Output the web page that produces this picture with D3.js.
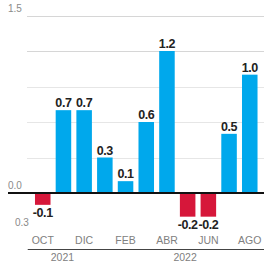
<!DOCTYPE html>
<html><head><meta charset="utf-8">
<script src="https://cdn.jsdelivr.net/npm/d3@7"></script>
<style>
html,body{margin:0;padding:0;background:#fff;}
svg{display:block;}
</style></head>
<body>
<div id="chart"></div>
<script>
const months = ["OCT","NOV","DIC","ENE","FEB","MAR","ABR","MAY","JUN","JUL","AGO"];
const values = [-0.1, 0.7, 0.7, 0.3, 0.1, 0.6, 1.2, -0.2, -0.2, 0.5, 1.0];
const monthLabels = ["OCT","DIC","FEB","ABR","JUN","AGO"];
const gridValues = [-0.3, 0, 0.3, 0.6, 0.9, 1.2, 1.5];
const tickValues = [1.5, 0.0, -0.3];
const tickLabels = ["1.5", "0.0", "0.3"];
const years = ["2021", "2022"];
const yearFirst = ["OCT", "ENE"];
const yearLast = ["DIC", "AGO"];

const W = 264, H = 264;
const svg = d3.select("#chart").append("svg").attr("width", W).attr("height", H);

const x = d3.scaleBand().domain(months).range([29.8, 262.7]).paddingInner(0.25).paddingOuter(0.25);
const y = d3.scaleLinear().domain([0, 1.2]).range([193, 51]);

// gridlines
svg.append("g").selectAll("line").data(gridValues.filter(v => v !== 0 && v > -0.3)).join("line")
  .attr("x1", 27).attr("x2", W)
  .attr("y1", d => Math.round(y(d)) + 0.5).attr("y2", d => Math.round(y(d)) + 0.5)
  .attr("stroke", d => d >= 1.2 ? "#d6d6d6" : "#e6e6e6").attr("stroke-width", 1);

// y tick labels
const tickX = {"1.5": 8, "0.0": 8, "0.3": 15};
svg.append("g").selectAll("text").data(tickValues).join("text")
  .attr("x", (d, i) => tickX[tickLabels[i]])
  .attr("y", d => d < 0 ? y(d) - 3 : y(d) - 4)
  .attr("font-family", "Liberation Sans, Arial, sans-serif")
  .attr("font-size", 10).attr("fill", "#8a8a8a")
  .text((d, i) => tickLabels[i]);

// bars
svg.append("g").selectAll("rect").data(values).join("rect")
  .attr("x", (d, i) => x(months[i]))
  .attr("width", x.bandwidth())
  .attr("y", d => d >= 0 ? y(d) : y(0))
  .attr("height", d => Math.abs(y(d) - y(0)))
  .attr("fill", d => d >= 0 ? "#00a8ec" : "#d6173a");

// baseline
svg.append("line").attr("x1", 8).attr("x2", W)
  .attr("y1", y(0)).attr("y2", y(0))
  .attr("stroke", "#111").attr("stroke-width", 2.2);

// value labels
svg.append("g").selectAll("text").data(values).join("text")
  .attr("x", (d, i) => x(months[i]) + x.bandwidth() / 2)
  .attr("y", d => d >= 0 ? y(d) - 3 : y(d) + 12)
  .attr("text-anchor", "middle")
  .attr("font-family", "Liberation Sans, Arial, sans-serif")
  .attr("font-weight", "bold").attr("font-size", 12.5).attr("fill", "#222")
  .attr("letter-spacing", -0.4)
  .text(d => d.toFixed(1));

// month labels
svg.append("g").selectAll("text").data(monthLabels).join("text")
  .attr("x", d => x(d) + x.bandwidth() / 2)
  .attr("y", 244)
  .attr("text-anchor", "middle")
  .attr("font-family", "Liberation Sans, Arial, sans-serif")
  .attr("font-size", 10.5).attr("fill", "#808080")
  .text(d => d);

// year groups
const step = x.step();
years.forEach((yr, i) => {
  const x0 = x(yearFirst[i]) - step * 0.35;
  const x1 = i === years.length - 1 ? x(yearLast[i]) + x.bandwidth() + step * 1.1 : x(yearLast[i]) + x.bandwidth() + step * 0.25;
  svg.append("line").attr("x1", x0).attr("x2", Math.min(x1, W))
    .attr("y1", 249.5).attr("y2", 249.5).attr("stroke", "#444").attr("stroke-width", 1);
  svg.append("text").attr("x", (x0 + x1) / 2).attr("y", 261)
    .attr("text-anchor", "middle")
    .attr("font-family", "Liberation Sans, Arial, sans-serif")
    .attr("font-size", 10.5).attr("fill", "#808080")
    .text(yr);
});
</script>
</body></html>
